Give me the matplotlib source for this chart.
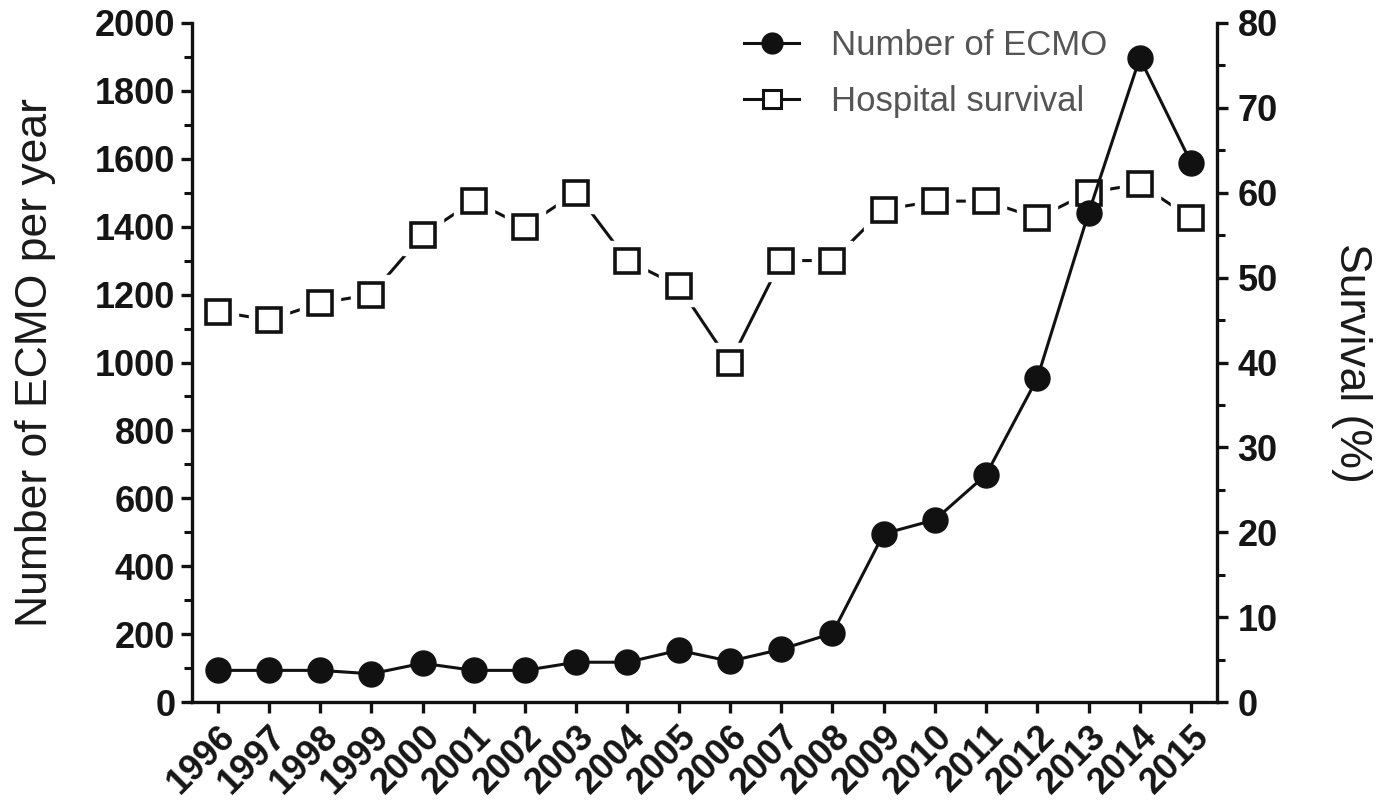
import matplotlib.pyplot as plt
from matplotlib.lines import Line2D
from matplotlib.ticker import MultipleLocator
import numpy as np

plt.rcParams['font.family'] = ['Liberation Sans', 'DejaVu Sans']

years = [str(y) for y in range(1996, 2016)]
ecmo = [94, 94, 94, 84, 115, 94, 94, 118, 118, 153, 121, 156, 203,
        496, 537, 670, 954, 1440, 1896, 1588]
survival = [46, 45, 47, 48, 55, 59, 56, 60, 52, 49, 40, 52, 52,
            58, 59, 59, 57, 60, 61, 57]

x = np.arange(len(years))

fig = plt.figure(figsize=(13.81, 8.11), dpi=100)
ax = fig.add_axes([0.139, 0.134, 0.742, 0.838])
ax2 = ax.twinx()
ax.set_zorder(ax2.get_zorder() + 1)
ax.patch.set_visible(False)

# survival: line with gaps around the open squares
ax2.plot(x, survival, color='#111111', lw=2.2, zorder=1)
ax2.plot(x, survival, ls='none', marker='s', ms=29, mfc='white', mec='white', zorder=2)
ax2.plot(x, survival, ls='none', marker='s', ms=17, mfc='white', mec='#111111',
         mew=2.6, zorder=3)

ax.plot(x, ecmo, color='#111111', lw=2.2, marker='o', ms=18, mfc='#111111',
        mec='#111111', zorder=4)

ax.set_xlim(-0.5, len(years) - 0.5)
ax.set_ylim(0, 2000)
ax2.set_ylim(0, 80)

ax.yaxis.set_major_locator(MultipleLocator(200))
ax.yaxis.set_minor_locator(MultipleLocator(100))
ax2.yaxis.set_major_locator(MultipleLocator(10))
ax2.yaxis.set_minor_locator(MultipleLocator(5))
ax.set_xticks(x)
ax.set_xticklabels(years, rotation=45, ha='right', rotation_mode='anchor')

for a in (ax, ax2):
    a.spines['top'].set_visible(False)
    for s in a.spines.values():
        s.set_linewidth(2.4)
        s.set_color('#111111')
    a.tick_params(which='major', length=8, width=2.4, color='#111111',
                  labelsize=26, pad=4)
    a.tick_params(which='minor', length=6, width=2.2, color='#111111')
    for lab in a.get_yticklabels() + a.get_xticklabels():
        lab.set_fontweight('bold')
        lab.set_color('#151515')
ax2.spines['left'].set_visible(False)
ax2.spines['bottom'].set_visible(False)
ax.spines['right'].set_visible(False)
ax.tick_params(axis='x', pad=4)
ax2.tick_params(axis='y', pad=7)

ax.set_ylabel('Number of ECMO per year', fontsize=32, color='#1a1a1a', labelpad=28)
ax2.set_ylabel('Survival (%)', fontsize=32, color='#1a1a1a', rotation=-90,
               labelpad=68)

handles = [
    Line2D([], [], color='#111111', lw=2.2, marker='o', ms=15, mfc='#111111'),
    Line2D([], [], color='#111111', lw=2.2, marker='s', ms=13, mfc='white',
           mec='#111111', mew=2.2),
]
leg = ax.legend(handles, ['Number of ECMO', 'Hospital survival'], loc='upper left',
                bbox_to_anchor=(0.508, 1.037), frameon=False, fontsize=25,
                handlelength=1.6, handletextpad=0.9, labelspacing=0.66)
for t in leg.get_texts():
    t.set_color('#555555')

fig.savefig('out.png', dpi=100)
